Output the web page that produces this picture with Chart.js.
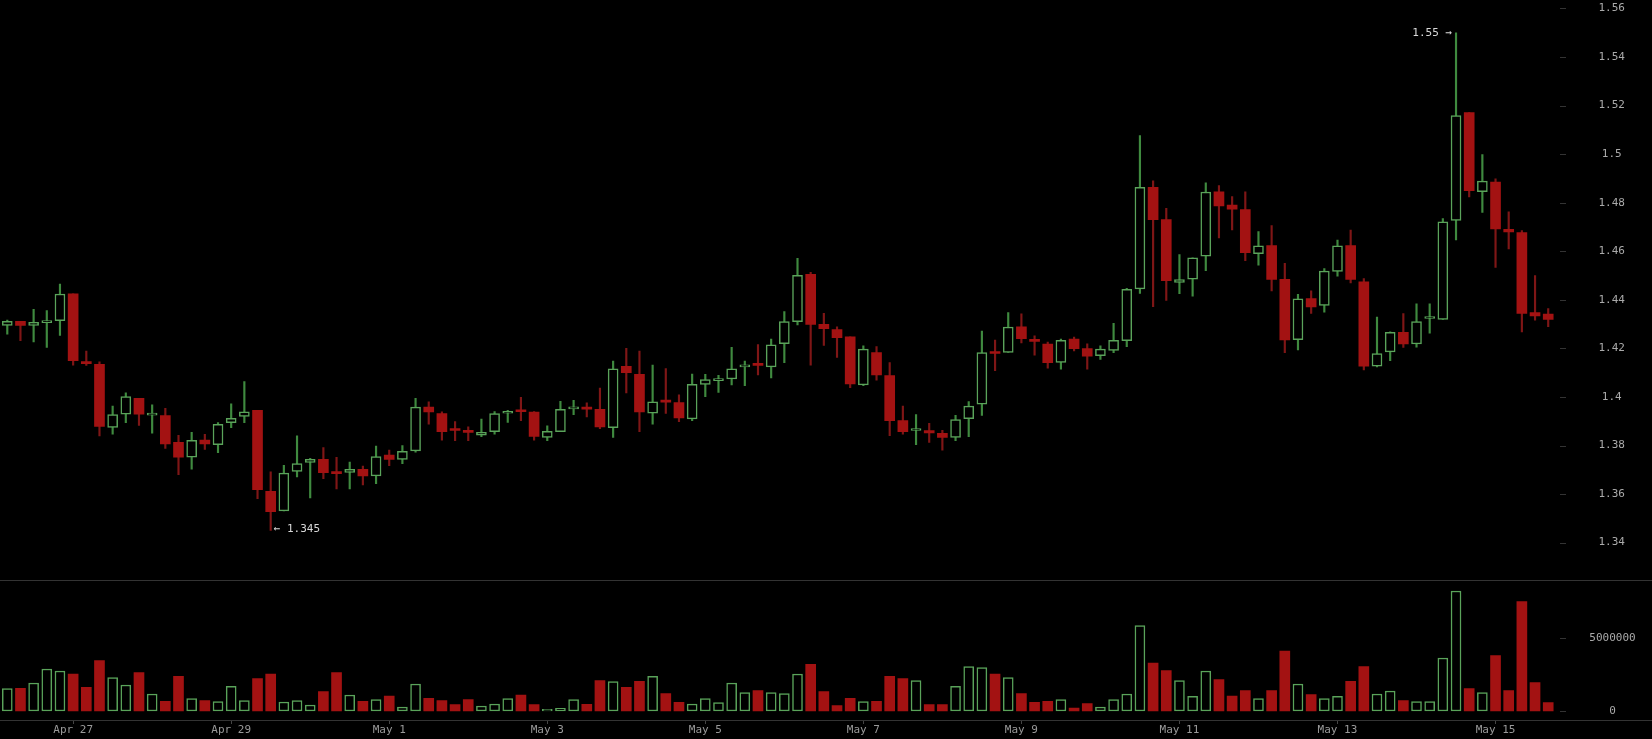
<!DOCTYPE html>
<html>
<head>
<meta charset="utf-8">
<title>Candles</title>
<script src="https://cdn.jsdelivr.net/npm/chart.js@4"></script>
<style>
  html, body { margin: 0; padding: 0; background: #000; overflow: hidden; }
  canvas { display: block; }
</style>
</head>
<body>
<canvas id="candles" width="1652" height="739"></canvas>
<script>
// 4h candles
const opens = [1.4295,1.4311,1.4295,1.4306,1.4314,1.4425,1.4142,1.4134,1.3875,1.3929,1.3994,1.3925,1.3923,1.3813,1.3752,1.3822,1.3803,1.3894,1.3920,1.3945,
  1.3611,1.3531,1.3693,1.3730,1.3743,1.3688,1.3689,1.3702,1.3675,1.3761,1.3743,1.3778,1.3958,1.3932,1.3864,1.3855,1.3843,1.3857,1.3933,1.3940,
  1.3938,1.3833,1.3857,1.3951,1.3958,1.3949,1.3874,1.4126,1.4093,1.3933,1.3986,1.3977,1.3910,1.4052,1.4067,1.4074,1.4124,1.4131,1.4124,1.4219,
  1.4310,1.4505,1.4299,1.4278,1.4248,1.4050,1.4183,1.4088,1.3903,1.3862,1.3862,1.3850,1.3833,1.3911,1.3970,1.4182,1.4183,1.4289,1.4233,1.4218,
  1.4142,1.4238,1.4199,1.4170,1.4192,1.4232,1.4445,1.4863,1.4731,1.4472,1.4485,1.4580,1.4845,1.4790,1.4772,1.4590,1.4624,1.4484,1.4236,1.4405,
  1.4377,1.4517,1.4624,1.4474,1.4127,1.4186,1.4266,1.4218,1.4323,1.4319,1.4727,1.5171,1.4846,1.4885,1.4690,1.4677,1.4348,1.4341];
const highs = [1.4317,1.4311,1.4361,1.4356,1.4465,1.4425,1.4189,1.4145,1.3962,1.4017,1.3994,1.3968,1.3953,1.3842,1.3854,1.3846,1.3894,1.3972,1.4063,1.3945,
  1.3692,1.3718,1.3840,1.3747,1.3791,1.3751,1.3732,1.3715,1.3798,1.3781,1.3800,1.3994,1.3980,1.3939,1.3899,1.3877,1.3909,1.3940,1.3945,1.3998,
  1.3940,1.3881,1.3982,1.3986,1.3976,1.4037,1.4148,1.4200,1.4189,1.4131,1.4117,1.4009,1.4094,1.4093,1.4089,1.4204,1.4148,1.4216,1.4238,1.4352,
  1.4571,1.4513,1.4344,1.4289,1.4248,1.4211,1.4207,1.4142,1.3962,1.3927,1.3891,1.3863,1.3924,1.3981,1.4271,1.4234,1.4348,1.4342,1.4252,1.4226,
  1.4238,1.4247,1.4219,1.4211,1.4303,1.4447,1.5077,1.4890,1.4777,1.4586,1.4573,1.4882,1.4871,1.4825,1.4845,1.4681,1.4706,1.4550,1.4423,1.4437,
  1.4529,1.4646,1.4687,1.4488,1.4329,1.4268,1.4343,1.4384,1.4384,1.4735,1.5500,1.5171,1.4998,1.4898,1.4762,1.4685,1.4500,1.4364];
const lows = [1.4259,1.4232,1.4227,1.4204,1.4253,1.4131,1.4130,1.3839,1.3847,1.3894,1.3883,1.3851,1.3788,1.3680,1.3703,1.3784,1.3770,1.3873,1.3894,1.3581,
  1.3450,1.3531,1.3671,1.3584,1.3663,1.3621,1.3621,1.3638,1.3643,1.3717,1.3725,1.3773,1.3888,1.3822,1.3820,1.3820,1.3836,1.3847,1.3895,1.3902,
  1.3822,1.3820,1.3857,1.3927,1.3918,1.3869,1.3833,1.4017,1.3857,1.3888,1.3932,1.3898,1.3902,1.4001,1.4019,1.4050,1.4046,1.4091,1.4078,1.4141,
  1.4297,1.4131,1.4212,1.4163,1.4038,1.4046,1.4069,1.3841,1.3847,1.3803,1.3813,1.3781,1.3820,1.3836,1.3924,1.4108,1.4183,1.4223,1.4172,1.4119,
  1.4114,1.4190,1.4114,1.4155,1.4182,1.4207,1.4426,1.4372,1.4398,1.4425,1.4415,1.4520,1.4655,1.4688,1.4561,1.4543,1.4437,1.4182,1.4194,1.4344,
  1.4349,1.4498,1.4470,1.4111,1.4124,1.4149,1.4204,1.4205,1.4263,1.4319,1.4647,1.4824,1.4760,1.4534,1.4610,1.4268,1.4316,1.4289];
const closes = [1.4311,1.4295,1.4307,1.4307,1.4424,1.4149,1.4137,1.3879,1.3927,1.4002,1.3929,1.3927,1.3807,1.3752,1.3821,1.3807,1.3887,1.3912,1.3939,1.3618,
  1.3527,1.3686,1.3726,1.3743,1.3688,1.3684,1.3702,1.3675,1.3754,1.3743,1.3776,1.3958,1.3938,1.3857,1.3862,1.3854,1.3854,1.3932,1.3940,1.3939,
  1.3837,1.3858,1.3949,1.3954,1.3950,1.3877,1.4116,1.4100,1.3938,1.3980,1.3979,1.3914,1.4052,1.4072,1.4071,1.4116,1.4126,1.4130,1.4215,1.4310,
  1.4501,1.4299,1.4281,1.4244,1.4054,1.4197,1.4091,1.3902,1.3857,1.3866,1.3852,1.3833,1.3907,1.3962,1.4183,1.4179,1.4288,1.4240,1.4229,1.4141,
  1.4233,1.4199,1.4168,1.4197,1.4233,1.4443,1.4863,1.4730,1.4479,1.4483,1.4573,1.4844,1.4787,1.4773,1.4594,1.4622,1.4484,1.4235,1.4404,1.4371,
  1.4518,1.4622,1.4484,1.4127,1.4179,1.4266,1.4218,1.4310,1.4327,1.4721,1.5159,1.4850,1.4889,1.4692,1.4680,1.4344,1.4334,1.4319];
const volumes = [1530000,1552000,1918000,2877000,2740000,2534000,1621000,3447000,2283000,1781000,2625000,1164000,662000,2374000,845000,708000,639000,1689000,708000,2215000,
  2534000,616000,708000,411000,1324000,2625000,1096000,662000,776000,1027000,274000,1849000,868000,708000,434000,776000,342000,479000,845000,1096000,
  434000,114000,183000,776000,457000,2078000,2009000,1621000,2032000,2374000,1187000,594000,479000,845000,571000,1918000,1256000,1393000,1256000,1187000,
  2534000,3196000,1324000,365000,868000,639000,662000,2374000,2215000,2078000,434000,434000,1689000,3036000,2968000,2534000,2283000,1187000,594000,662000,
  776000,205000,502000,274000,776000,1164000,5844000,3288000,2762000,2078000,1005000,2740000,2146000,1027000,1393000,845000,1393000,4109000,1849000,1119000,
  845000,1005000,2032000,3036000,1164000,1370000,708000,639000,639000,3630000,8219000,1530000,1256000,3790000,1393000,7488000,1941000,571000];
const volumeTicks = [0, 5000000];

// date label sits on every 12th candle, starting at the 6th
const dateLabels = ['Apr 27','Apr 29','May 1','May 3','May 5','May 7','May 9','May 11','May 13','May 15'];
const categories = opens.map(function(o, i) {
    return (i - 5) % 12 === 0 && i >= 5 ? dateLabels[(i - 5) / 12] : '';
});

const highMark = { index: 110, value: 1.55, text: '1.55 \u2192' };
const lowMark = { index: 20, value: 1.345, text: '\u2190 1.345' };

const RED = '#a31212', RED_WICK = '#7f1616';
const GREEN = '#5aa35a', GREEN_WICK = '#3f8a3f';
const MONO = '"DejaVu Sans Mono", monospace';

function isUp(i) { return closes[i] >= opens[i]; }

// zero the label padding so the plot reaches the edges of the canvas
function sideAxisFit(scale) {
    scale.width = 97.2;
    scale.paddingTop = 0;
    scale.paddingBottom = 0;
}

// separators and the little y dashes sit apart from the plot, so draw them here
const overlay = {
    id: 'overlay',
    afterDraw: function(chart) {
        const ctx = chart.ctx;
        const y = chart.scales.y, yVol = chart.scales.yVol, x = chart.scales.x;
        ctx.save();
        ctx.lineWidth = 1;
        ctx.strokeStyle = '#333';
        ctx.beginPath();
        ctx.moveTo(0, 580.5); ctx.lineTo(1652, 580.5);
        ctx.moveTo(0, 720.5); ctx.lineTo(1652, 720.5);
        [y, yVol].forEach(function(scale) {
            scale.ticks.forEach(function(t, i) {
                const py = Math.round(scale.getPixelForTick(i)) + 0.5;
                ctx.moveTo(1560, py); ctx.lineTo(1566, py);
            });
        });
        ctx.stroke();

        ctx.font = '11px ' + MONO;
        ctx.fillStyle = '#d8d8d8';
        ctx.textBaseline = 'middle';
        ctx.textAlign = 'right';
        ctx.fillText(highMark.text, x.getPixelForTick(highMark.index) - 4, y.getPixelForValue(highMark.value));
        ctx.textAlign = 'left';
        ctx.fillText(lowMark.text, x.getPixelForTick(lowMark.index) + 3, y.getPixelForValue(lowMark.value) - 1);
        ctx.restore();
    }
};

new Chart(document.getElementById('candles').getContext('2d'), {
    type: 'bar',
    plugins: [overlay],
    data: {
        labels: categories,
        datasets: [
            {
                label: 'wick',
                yAxisID: 'y',
                order: 2,
                data: opens.map(function(o, i) { return [lows[i], highs[i]]; }),
                barThickness: 1.5,
                grouped: false,
                backgroundColor: opens.map(function(o, i) { return isUp(i) ? GREEN_WICK : RED_WICK; })
            },
            {
                label: 'body',
                yAxisID: 'y',
                order: 1,
                data: opens.map(function(o, i) { return [o, closes[i]]; }),
                barThickness: 10,
                grouped: false,
                minBarLength: 2,
                borderSkipped: false,
                borderWidth: opens.map(function(o, i) { return isUp(i) ? 1.5 : 0; }),
                borderColor: GREEN,
                backgroundColor: opens.map(function(o, i) { return isUp(i) ? '#000' : RED; })
            },
            {
                label: 'volume',
                yAxisID: 'yVol',
                order: 1,
                data: volumes,
                barThickness: 10,
                grouped: false,
                borderSkipped: false,
                borderWidth: opens.map(function(o, i) { return isUp(i) ? 1.5 : 0; }),
                borderColor: GREEN,
                backgroundColor: opens.map(function(o, i) { return isUp(i) ? '#000' : RED; })
            }
        ]
    },
    options: {
        responsive: false,
        animation: false,
        devicePixelRatio: 1,
        layout: { padding: { left: 0.7, right: 0, top: 0, bottom: 0 } },
        plugins: { legend: { display: false }, tooltip: { enabled: false } },
        scales: {
            x: {
                offset: true,
                border: { display: false },
                grid: {
                    offset: false,
                    drawOnChartArea: false,
                    tickLength: 4,
                    tickColor: function(c) { return categories[c.index] ? '#444' : 'transparent'; }
                },
                ticks: {
                    autoSkip: false,
                    maxRotation: 0,
                    padding: 0,
                    color: '#999',
                    font: { family: MONO, size: 11 },
                    callback: function(v, i) { return categories[i]; }
                },
                afterFit: function(scale) {
                    scale.height = 19;
                    scale.paddingLeft = 0;
                    scale.paddingRight = 0;
                }
            },
            y: {
                position: 'right',
                stack: 'panes',
                stackWeight: 580.5,
                min: 1.3244,
                max: 1.5635,
                border: { display: false },
                grid: { display: false, tickLength: 0 },
                ticks: {
                    stepSize: 0.02,
                    includeBounds: false,
                    autoSkip: false,
                    crossAlign: 'center',
                    padding: 43.7,
                    color: '#aaa',
                    font: { family: MONO, size: 11 },
                    callback: function(v) { return String(+v.toFixed(2)); }
                },
                afterFit: sideAxisFit
            },
            yVol: {
                position: 'right',
                stack: 'panes',
                stackWeight: 139.5,
                min: -616000,
                max: 8938000,
                border: { display: false },
                grid: { display: false, tickLength: 0 },
                afterBuildTicks: function(scale) {
                    scale.ticks = volumeTicks.map(function(v) { return { value: v }; });
                },
                ticks: {
                    autoSkip: false,
                    crossAlign: 'center',
                    padding: 34.5,
                    color: '#aaa',
                    font: { family: MONO, size: 11 },
                    callback: function(v) { return String(v); }
                },
                afterFit: sideAxisFit
            }
        }
    }
});
</script>
</body>
</html>
